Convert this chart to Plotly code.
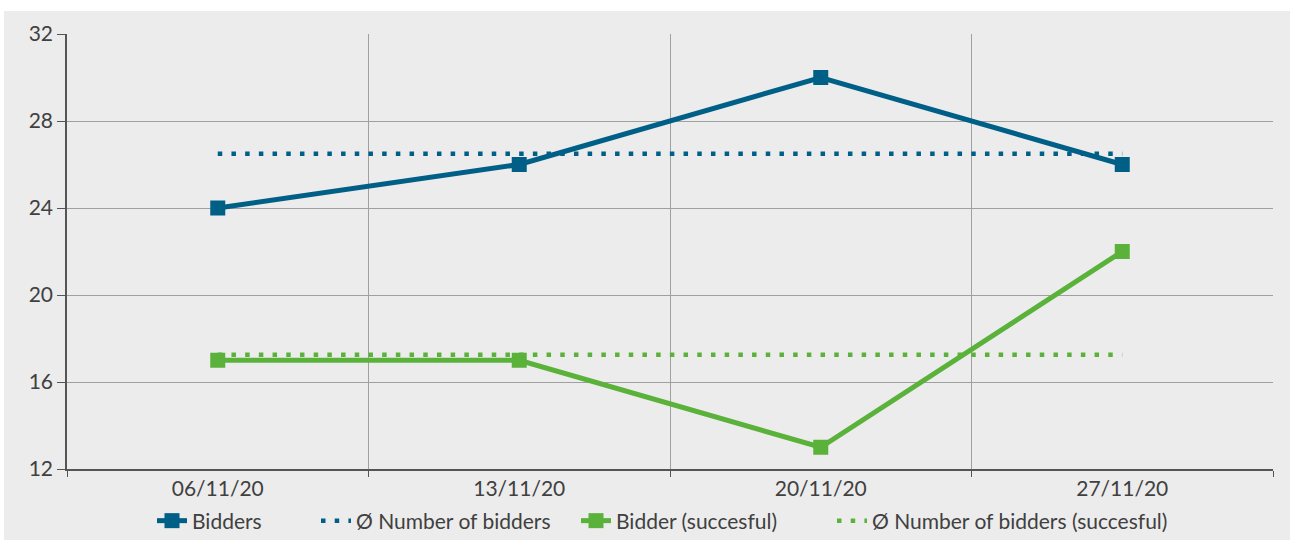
import plotly.graph_objects as go

dates = ["06/11/20", "13/11/20", "20/11/20", "27/11/20"]
bidders = [24, 26, 30, 26]
bidders_successful = [17, 17, 13, 22]
avg_bidders = sum(bidders) / len(bidders)
avg_successful = sum(bidders_successful) / len(bidders_successful)

BLUE = "#005f87"
GREEN = "#5ab23a"
BG = "#ececec"
TXT = "#404040"
FONT = "Lato, Open Sans, sans-serif"

W, H = 1290, 540
l, r, t, b = 67, 17, 34, 71
pw, ph = W - l - r, H - t - b


def px_x(sx):
    return (sx - l) / pw


def px_y(sy):
    return (H - b - sy) / ph


fig = go.Figure()
fig.add_trace(go.Scatter(x=dates, y=bidders, name="Bidders", mode="lines+markers",
                         line=dict(color=BLUE, width=5),
                         marker=dict(symbol="square", size=15, color=BLUE), legend="legend"))
fig.add_trace(go.Scatter(x=dates, y=[avg_bidders] * len(dates), name="Ø Number of bidders",
                         mode="lines", line=dict(color=BLUE, width=4.5, dash="4.5px,9.2px"),
                         legend="legend2"))
fig.add_trace(go.Scatter(x=dates, y=bidders_successful, name="Bidder (succesful)", mode="lines+markers",
                         line=dict(color=GREEN, width=5),
                         marker=dict(symbol="square", size=15, color=GREEN), legend="legend3"))
fig.add_trace(go.Scatter(x=dates, y=[avg_successful] * len(dates), name="Ø Number of bidders (succesful)",
                         mode="lines", line=dict(color=GREEN, width=4.5, dash="4.5px,9.2px"),
                         legend="legend4"))

# white strips at the top and left (the gray panel starts a few pixels in)
fig.add_shape(type="rect", xref="paper", yref="paper", layer="below",
              x0=px_x(0), x1=px_x(W), y0=px_y(11), y1=px_y(0),
              fillcolor="white", line_width=0)
fig.add_shape(type="rect", xref="paper", yref="paper", layer="below",
              x0=px_x(0), x1=px_x(4), y0=px_y(H), y1=px_y(0),
              fillcolor="white", line_width=0)


def leg(sx):
    return dict(orientation="h", x=px_x(sx), xanchor="left",
                yref="container", y=1 - 521 / H, yanchor="middle",
                bgcolor="rgba(0,0,0,0)", borderwidth=0,
                font=dict(family=FONT, size=21, color=TXT))


fig.update_layout(
    width=W, height=H,
    margin=dict(l=l, r=r, t=t, b=b),
    paper_bgcolor=BG, plot_bgcolor=BG,
    font=dict(family=FONT, size=21, color=TXT),
    showlegend=True,
    legend=leg(152), legend2=leg(316), legend3=leg(576), legend4=leg(832),
    xaxis=dict(type="category", range=[-0.5, 3.5], tickson="boundaries",
               showgrid=True, gridcolor="#a0a0a0", gridwidth=1,
               showline=True, linecolor="#555555", linewidth=1.5,
               ticks="outside", ticklen=6, tickcolor="#555555",
               tickfont=dict(family=FONT, size=21, color=TXT), fixedrange=True, automargin=False),
    yaxis=dict(range=[12, 32], dtick=4, tick0=12,
               showgrid=True, gridcolor="#a0a0a0", gridwidth=1,
               showline=True, linecolor="#555555", linewidth=1.5,
               ticks="outside", ticklen=8, tickcolor="#555555",
               tickfont=dict(family=FONT, size=21, color=TXT), zeroline=False, fixedrange=True,
               automargin=False),
)

fig.write_html("out.html", config={"displayModeBar": False},
               post_script="document.body.style.margin='0';")
